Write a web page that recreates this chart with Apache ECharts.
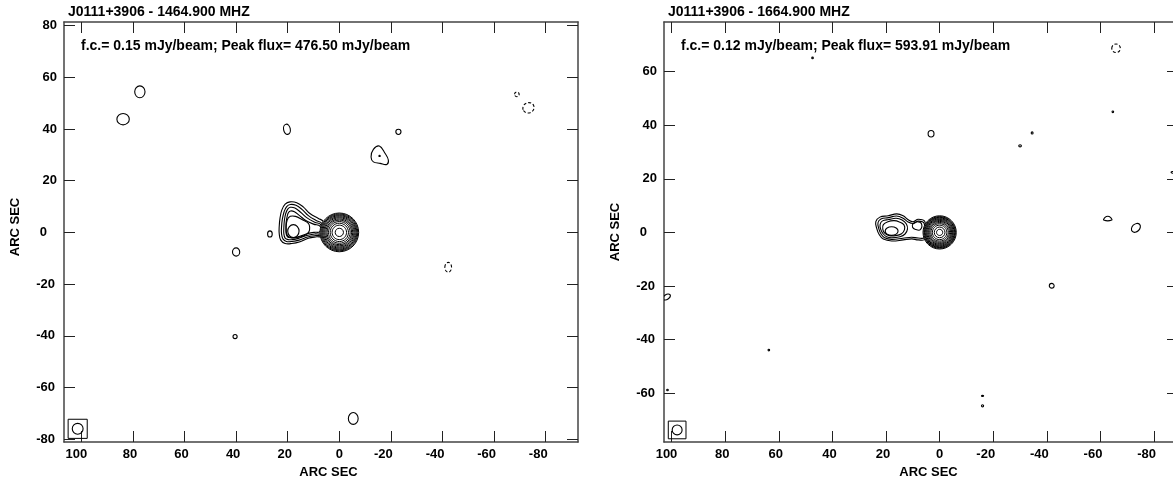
<!DOCTYPE html>
<html>
<head>
<meta charset="utf-8">
<script src="https://cdn.jsdelivr.net/npm/echarts@6/dist/echarts.min.js"></script>
<style>
  html, body { margin: 0; padding: 0; background: #fff; }
  #chart { width: 1173px; height: 477px; }
</style>
</head>
<body>
<div id="chart"></div>
<script>
// ---- map headers ----
const titles = ['J0111+3906 - 1464.900 MHZ', 'J0111+3906 - 1664.900 MHZ'];
const notes = ['f.c.= 0.15 mJy/beam; Peak flux= 476.50 mJy/beam',
               'f.c.= 0.12 mJy/beam; Peak flux= 593.91 mJy/beam'];
const axisName = 'ARC SEC';

// ---- tick values (arcsec) ----
const xTicks = [100, 80, 60, 40, 20, 0, -20, -40, -60, -80];
const yTicks1464 = [80, 60, 40, 20, 0, -20, -40, -60, -80];
const yTicks1664 = [60, 40, 20, 0, -20, -40, -60];

// ---- field of view [min, max], arcsec ----
const xRange1464 = [-92.5, 106.7];
const yRange1464 = [-81.1, 81.4];
const xRange1664 = [-88.9, 102.8];
const yRange1664 = [-78.2, 78.5];

// ---- core contour radii (arcsec), outermost level first ----
const coreRadii1464 = [7.5, 7.15, 6.8, 6.45, 6.05, 5.65, 5.2, 4.75, 4.2, 3.55, 2.8, 1.6];
const coreRadii1664 = [6.2, 5.9, 5.65, 5.4, 5.1, 4.8, 4.45, 4.1, 3.7, 3.25, 2.7, 2.0, 1.15];

// ---- extended emission: closed contour loops of [x, y] arcsec ----
const lobe1464 = [
  [[6.2, 4.1], [8.1, 5.4], [11.4, 7.3], [14.0, 9.9], [16.5, 11.5], [19.1, 11.8], [21.0, 10.9], [22.3, 8.6],
   [23.0, 5.4], [23.3, 2.2], [23.3, -0.4], [22.7, -3.0], [21.0, -4.3], [18.4, -4.3], [15.2, -3.6],
   [12.0, -2.3], [8.8, -1.7], [6.4, -1.4]],
  [[6.8, 3.5], [9.0, 4.6], [12.0, 6.5], [14.5, 8.9], [16.8, 10.5], [19.0, 10.8], [20.4, 10.0], [21.4, 8.0],
   [22.1, 5.0], [22.4, 2.0], [22.4, -0.5], [21.8, -2.6], [20.5, -3.5], [18.3, -3.5], [15.3, -2.9],
   [12.3, -1.8], [9.0, -1.2], [6.8, -1.0]],
  [[7.2, 3.0], [9.5, 3.9], [12.5, 5.6], [15.0, 7.8], [17.2, 9.4], [19.0, 9.7], [20.0, 9.0], [20.8, 7.2],
   [21.3, 4.6], [21.5, 1.8], [21.5, -0.5], [21.0, -2.2], [19.8, -2.8], [18.1, -2.8], [15.5, -2.2],
   [12.6, -1.2], [9.5, -0.6], [7.2, -0.4]],
  [[7.5, 2.4], [10.0, 3.2], [13.0, 4.6], [15.5, 6.6], [17.4, 8.0], [18.9, 8.3], [19.7, 7.7], [20.2, 6.2],
   [20.6, 4.0], [20.7, 1.5], [20.6, -0.6], [20.0, -1.8], [18.8, -2.1], [17.2, -2.0], [15.0, -1.4],
   [12.5, -0.5], [9.8, 0.0], [7.5, 0.3]],
  [[12.0, 3.5], [14.5, 5.0], [17.0, 6.2], [19.0, 6.2], [20.2, 4.8], [20.6, 2.0], [20.3, -0.8], [19.0, -2.0],
   [16.5, -2.0], [13.5, -1.2], [11.8, 0.2], [11.5, 2.0]],
  [[-15.5, 33.4], [-17.7, 30.6], [-19.0, 28.0], [-18.4, 26.3], [-15.8, 26.7], [-13.2, 27.3], [-12.3, 29.2],
   [-13.2, 32.1]]
];
const lobe1664 = [
  [[5.5, 4.0], [8.0, 4.9], [9.9, 4.0], [11.7, 4.7], [13.6, 6.2], [16.0, 6.9], [19.2, 6.2], [22.3, 5.7],
   [23.8, 4.0], [23.5, 1.6], [22.5, -0.9], [21.0, -2.5], [17.9, -3.2], [13.6, -2.8], [10.4, -2.4],
   [8.0, -2.8], [5.5, -2.5]],
  [[5.8, 3.4], [8.0, 4.2], [9.8, 3.3], [11.8, 3.9], [13.8, 5.4], [16.1, 6.1], [19.1, 5.5], [21.9, 5.0],
   [23.0, 3.6], [22.7, 1.4], [21.8, -0.7], [20.5, -2.0], [17.9, -2.6], [13.7, -2.2], [10.5, -1.8],
   [8.0, -2.1], [5.8, -1.9]],
  [[12.4, 3.1], [14.0, 4.6], [16.2, 5.3], [19.0, 4.8], [21.3, 4.3], [22.2, 3.0], [22.0, 1.2], [21.1, -0.5],
   [19.8, -1.6], [17.9, -2.0], [14.8, -1.6], [12.9, -0.6], [12.0, 1.2]],
  [[13.3, 2.8], [15.0, 3.9], [17.0, 4.4], [19.3, 4.0], [21.0, 2.9], [21.2, 1.1], [20.4, -0.4], [18.8, -1.2],
   [16.4, -1.2], [14.2, -0.5], [13.1, 1.0]],
  [[6.8, 3.3], [8.4, 4.0], [9.9, 3.3], [10.1, 1.9], [9.0, 1.1], [7.2, 1.0]],
  [[-61.2, 4.6], [-61.7, 5.6], [-62.7, 6.0], [-63.7, 5.6], [-64.2, 4.6]]
];

// ---- compact contours: [x, y, rx, ry, tilt deg, negative level 1/0] ----
const blobs1464 = [
  [17.8, 0.5, 2.2, 2.5, 0, 0],
  [83.8, 43.8, 2.4, 2.2, 0, 0],
  [77.3, 54.4, 2.0, 2.3, 0, 0],
  [20.3, 39.9, 1.3, 2.0, 10, 0],
  [-22.9, 38.9, 1.0, 1.0, 0, 0],
  [-15.6, 29.6, 0.25, 0.25, 0, 0],
  [-68.8, 53.4, 0.9, 0.9, 0, 1],
  [-73.3, 48.2, 2.2, 2.0, 20, 1],
  [-42.2, -13.5, 1.3, 1.9, 0, 1],
  [40.0, -7.6, 1.4, 1.6, 0, 0],
  [26.9, -0.6, 0.9, 1.2, 0, 0],
  [40.4, -40.3, 0.8, 0.8, 0, 0],
  [-5.4, -72.0, 1.9, 2.3, 0, 0]
];
const blobs1664 = [
  [17.9, 0.5, 2.4, 1.6, 0, 0],
  [3.2, 36.8, 1.1, 1.2, 0, 0],
  [-30.0, 32.3, 0.5, 0.4, 0, 0],
  [-34.5, 37.1, 0.35, 0.4, 0, 0],
  [47.4, 65.1, 0.3, 0.3, 0, 0],
  [-65.8, 68.7, 1.6, 1.6, 0, 1],
  [-64.6, 45.0, 0.3, 0.3, 0, 0],
  [-86.9, 22.4, 0.6, 0.35, 0, 0],
  [-73.2, 1.7, 1.9, 1.4, 45, 0],
  [-41.8, -19.9, 0.9, 0.9, 0, 0],
  [101.8, -24.1, 1.5, 0.9, 35, 0],
  [63.7, -43.9, 0.3, 0.3, 0, 0],
  [-16.0, -61.0, 0.4, 0.2, 0, 0],
  [-16.0, -64.7, 0.4, 0.4, 0, 0],
  [101.5, -58.8, 0.3, 0.3, 0, 0]
];

// ---- restoring beam: [x, y, radius, box half-width] ----
const beam1464 = [101.4, -76.0, 2.1, 3.7];
const beam1664 = [97.9, -73.7, 1.85, 3.3];

// ---- drawing ----
const INK = '#000';
const FONT = 'Liberation Sans, Arial, Helvetica, sans-serif';
const LW = 1.1;

function loopRenderer(loops) {
  return function (params, api) {
    const pts = loops[params.dataIndex].map(p => api.coord(p));
    return {
      type: 'polygon',
      shape: { points: pts, smooth: 0.4 },
      style: { fill: 'none', stroke: INK, lineWidth: LW }
    };
  };
}

function ellipseRenderer(params, api) {
  const c = api.coord([api.value(0), api.value(1)]);
  const s = api.size([api.value(2), api.value(3)]);
  const neg = api.value(5) === 1;
  return {
    type: 'ellipse',
    x: c[0], y: c[1],
    rotation: api.value(4) * Math.PI / 180,
    shape: { cx: 0, cy: 0, rx: Math.abs(s[0]), ry: Math.abs(s[1]) },
    style: { fill: 'none', stroke: INK, lineWidth: LW, lineDash: neg ? [3, 2] : null }
  };
}

// the outermost core ring is filled white so the lobe contours stop at it
function coreRenderer(params, api) {
  const c = api.coord([api.value(0), api.value(1)]);
  const s = api.size([api.value(2), api.value(2)]);
  return {
    type: 'ellipse',
    shape: { cx: c[0], cy: c[1], rx: Math.abs(s[0]), ry: Math.abs(s[1]) },
    style: { fill: params.dataIndex === 0 ? '#fff' : 'none', stroke: INK, lineWidth: 1 }
  };
}

function beamRenderer(params, api) {
  const x = api.value(0), y = api.value(1), r = api.value(2), h = api.value(3);
  const p1 = api.coord([x + h, y + h]);
  const p2 = api.coord([x - h, y - h]);
  const c = api.coord([x, y]);
  const s = api.size([r, r]);
  return {
    type: 'group',
    children: [
      { type: 'rect',
        shape: { x: Math.min(p1[0], p2[0]), y: Math.min(p1[1], p2[1]),
                 width: Math.abs(p2[0] - p1[0]), height: Math.abs(p2[1] - p1[1]) },
        style: { fill: 'none', stroke: INK, lineWidth: 1 } },
      { type: 'ellipse',
        shape: { cx: c[0], cy: c[1], rx: Math.abs(s[0]), ry: Math.abs(s[1]) },
        style: { fill: 'none', stroke: INK, lineWidth: 1.1 } }
    ]
  };
}

const labelStyle = { fontFamily: FONT, fontWeight: 'bold', fontSize: 13, color: '#000' };
const frameLine = { show: true, onZero: false, lineStyle: { color: '#444', width: 1.5 } };

// tick numbers sit a little left of their ticks, more so when signed
const xRich = {
  z: Object.assign({}, labelStyle),
  p: Object.assign({ padding: [0, 6, 0, 0] }, labelStyle),
  t: Object.assign({ padding: [0, 10, 0, 0] }, labelStyle),
  n: Object.assign({ padding: [0, 15, 0, 0] }, labelStyle)
};
function xLabel(v) {
  const k = v === 0 ? 'z' : v < 0 ? 'n' : (v >= 100 ? 't' : 'p');
  return '{' + k + '|' + v + '}';
}
const yRich = {
  z: Object.assign({ padding: [0, 10, 0, 0] }, labelStyle),
  p: Object.assign({}, labelStyle),
  n: Object.assign({ padding: [0, 2, 0, 0] }, labelStyle)
};
function yLabel(v) {
  const k = v === 0 ? 'z' : v < 0 ? 'n' : 'p';
  return '{' + k + '|' + v + '}';
}

function tickCfg(values) {
  return { show: true, inside: true, length: 11, customValues: values, lineStyle: { color: '#222', width: 1 } };
}

function xAxes(gi, range) {
  return [
    { gridIndex: gi, type: 'value', position: 'bottom', inverse: true, min: range[0], max: range[1],
      axisLine: frameLine, axisTick: tickCfg(xTicks),
      axisLabel: Object.assign({ customValues: xTicks, margin: 6, formatter: xLabel, rich: xRich }, labelStyle),
      splitLine: { show: false },
      name: axisName, nameLocation: 'middle', nameGap: 17,
      nameTextStyle: Object.assign({ padding: [0, 0, 0, 15] }, labelStyle) },
    { gridIndex: gi, type: 'value', position: 'top', inverse: true, min: range[0], max: range[1],
      axisLine: frameLine, axisTick: tickCfg(xTicks), axisLabel: { show: false },
      splitLine: { show: false } }
  ];
}

function yAxes(gi, range, ticks, namePad) {
  return [
    { gridIndex: gi, type: 'value', position: 'left', min: range[0], max: range[1],
      axisLine: frameLine, axisTick: tickCfg(ticks),
      axisLabel: Object.assign({ customValues: ticks, margin: 7, formatter: yLabel, rich: yRich }, labelStyle),
      splitLine: { show: false },
      name: axisName, nameLocation: 'middle', nameGap: 42,
      nameTextStyle: Object.assign({ padding: [0, 0, 0, namePad] }, labelStyle) },
    { gridIndex: gi, type: 'value', position: 'right', min: range[0], max: range[1],
      axisLine: frameLine, axisTick: tickCfg(ticks), axisLabel: { show: false },
      splitLine: { show: false } }
  ];
}

function panelSeries(gi, coreRadii, loops, blobs, beam) {
  const axes = { xAxisIndex: gi * 2, yAxisIndex: gi * 2 };
  return [
    Object.assign({ type: 'custom', z: 2, clip: true, renderItem: loopRenderer(loops),
      data: loops.map(l => l[0]) }, axes),
    Object.assign({ type: 'custom', z: 3, clip: true, renderItem: coreRenderer,
      data: coreRadii.map(r => [0, 0, r]) }, axes),
    Object.assign({ type: 'custom', z: 4, clip: true, renderItem: ellipseRenderer,
      data: blobs }, axes),
    Object.assign({ type: 'custom', z: 4, clip: true, renderItem: beamRenderer,
      data: [beam] }, axes)
  ];
}

const chart = echarts.init(document.getElementById('chart'), null, { renderer: 'canvas' });
chart.setOption({
  backgroundColor: '#fff',
  animation: false,
  grid: [
    { left: 64, top: 22, width: 514, height: 420, outerBoundsMode: 'none' },
    { left: 664, top: 22, width: 514, height: 420, outerBoundsMode: 'none' }
  ],
  xAxis: [...xAxes(0, xRange1464), ...xAxes(1, xRange1664)],
  yAxis: [...yAxes(0, yRange1464, yTicks1464, 10), ...yAxes(1, yRange1664, yTicks1664, 0)],
  graphic: [
    { type: 'text', left: 68, top: 5, style: { text: titles[0], font: 'bold 14px ' + FONT, fill: '#000' } },
    { type: 'text', left: 81, top: 39, style: { text: notes[0], font: 'bold 14px ' + FONT, fill: '#000' } },
    { type: 'text', left: 668, top: 5, style: { text: titles[1], font: 'bold 14px ' + FONT, fill: '#000' } },
    { type: 'text', left: 681, top: 39, style: { text: notes[1], font: 'bold 14px ' + FONT, fill: '#000' } }
  ],
  series: [
    ...panelSeries(0, coreRadii1464, lobe1464, blobs1464, beam1464),
    ...panelSeries(1, coreRadii1664, lobe1664, blobs1664, beam1664)
  ]
});
</script>
</body>
</html>
